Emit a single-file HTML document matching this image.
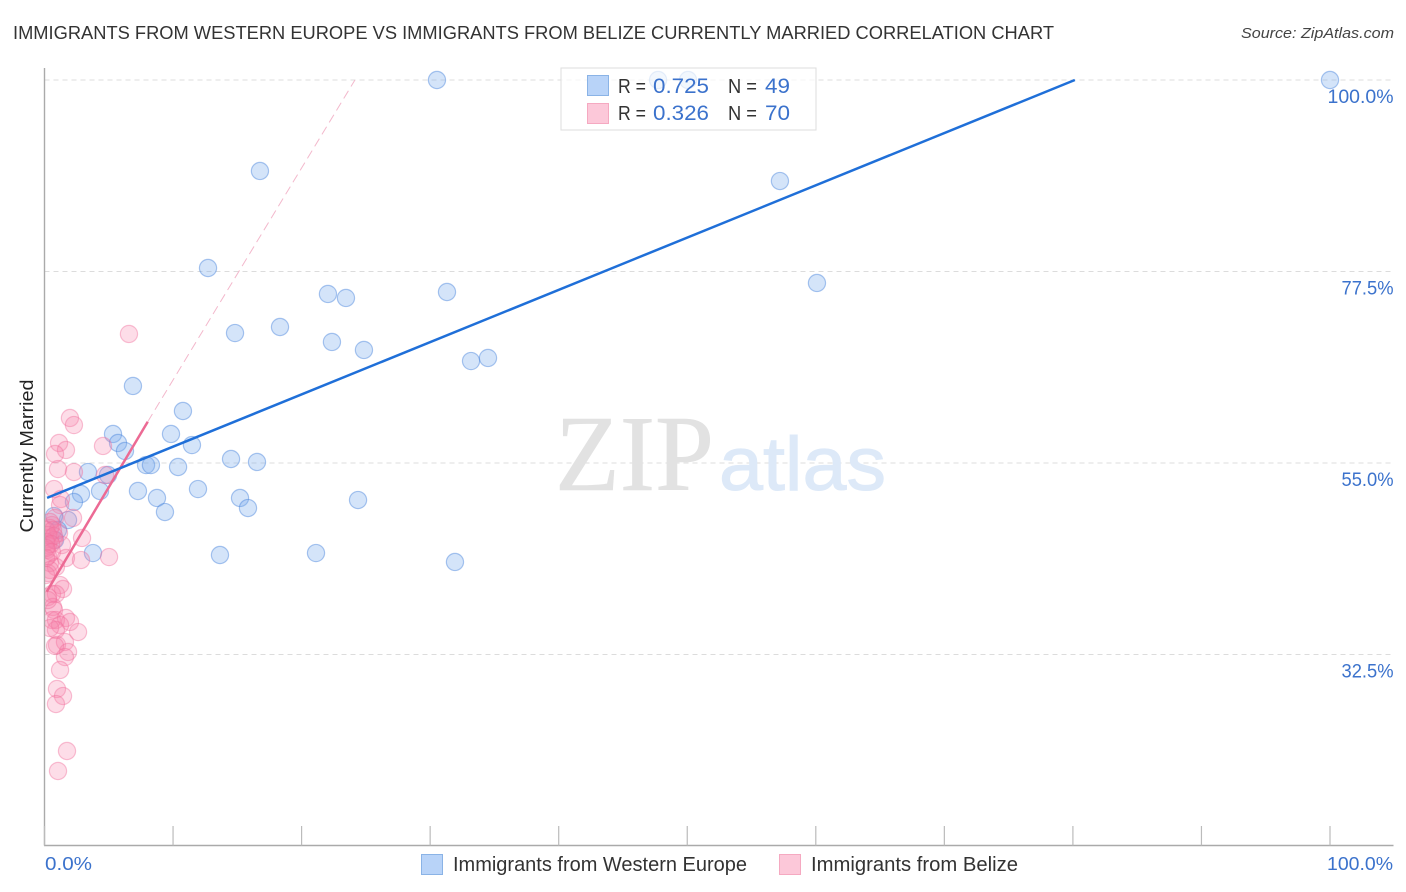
<!DOCTYPE html>
<html lang="en">
<head>
<meta charset="utf-8">
<title>Immigrants from Western Europe vs Immigrants from Belize Currently Married Correlation Chart</title>
<style>
html,body{margin:0;padding:0;background:#fff;width:1406px;height:892px;overflow:hidden}
svg{display:block}
text{font-family:"Liberation Sans",sans-serif}
</style>
</head>
<body>
<svg id="chart" width="1406" height="892" viewBox="0 0 1406 892" xmlns="http://www.w3.org/2000/svg">
  <defs>
    <clipPath id="plot-clip"><rect x="45" y="60" width="1361" height="786"/></clipPath>
  </defs>
  <rect x="0" y="0" width="1406" height="892" fill="#ffffff"/>
  <text x="13" y="39" font-size="18.5" fill="#333333" textLength="1041" lengthAdjust="spacingAndGlyphs">IMMIGRANTS FROM WESTERN EUROPE VS IMMIGRANTS FROM BELIZE CURRENTLY MARRIED CORRELATION CHART</text>
  <text x="1241" y="38" font-size="15" font-style="italic" fill="#444444" textLength="153" lengthAdjust="spacingAndGlyphs">Source: ZipAtlas.com</text>
  <g id="grid"></g>
  <g>
    <text x="555" y="490" font-size="108" fill="#e2e2e2" stroke="#e2e2e2" stroke-width="0.6" style="font-family:'Liberation Serif',serif" textLength="159" lengthAdjust="spacingAndGlyphs">ZIP</text>
    <text x="719" y="490" font-size="76" fill="#dde9f8" stroke="#dde9f8" stroke-width="1" textLength="167" lengthAdjust="spacingAndGlyphs">atlas</text>
  </g>
  <g id="points-blue" clip-path="url(#plot-clip)"></g>
  <g id="points-pink" clip-path="url(#plot-clip)"></g>
  <g id="axes"></g>
  <g id="trends"></g>
  <g id="ylabels"></g>
  <text transform="translate(33,456) rotate(-90)" text-anchor="middle" font-size="18.5" fill="#222222" textLength="153" lengthAdjust="spacingAndGlyphs">Currently Married</text>
  <text x="45" y="870" font-size="18.5" fill="#3b72cc" textLength="47" lengthAdjust="spacingAndGlyphs">0.0%</text>
  <text x="1327" y="870" font-size="18.5" fill="#3b72cc" textLength="66" lengthAdjust="spacingAndGlyphs">100.0%</text>

  <g>
    <rect x="561" y="68" width="255" height="62" fill="#ffffff" fill-opacity="0.7" stroke="#dddddd" stroke-width="1"/>
    <rect x="587.5" y="75.5" width="21" height="20" fill="#b8d3f8" stroke="#8ab3e6" stroke-width="1"/>
    <rect x="587.5" y="103.5" width="21" height="20" fill="#fcc8d9" stroke="#f5a9c1" stroke-width="1"/>
    <text x="618" y="93" font-size="20" fill="#333333" textLength="28" lengthAdjust="spacingAndGlyphs">R =</text>
    <text x="653" y="93" font-size="21" fill="#3b72cc" textLength="56" lengthAdjust="spacingAndGlyphs">0.725</text>
    <text x="728" y="93" font-size="20" fill="#333333" textLength="29" lengthAdjust="spacingAndGlyphs">N =</text>
    <text x="765" y="93" font-size="21" fill="#3b72cc" textLength="25" lengthAdjust="spacingAndGlyphs">49</text>
    <text x="618" y="120" font-size="20" fill="#333333" textLength="28" lengthAdjust="spacingAndGlyphs">R =</text>
    <text x="653" y="120" font-size="21" fill="#3b72cc" textLength="56" lengthAdjust="spacingAndGlyphs">0.326</text>
    <text x="728" y="120" font-size="20" fill="#333333" textLength="29" lengthAdjust="spacingAndGlyphs">N =</text>
    <text x="765" y="120" font-size="21" fill="#3b72cc" textLength="25" lengthAdjust="spacingAndGlyphs">70</text>
  </g>

  <g>
    <rect x="421.5" y="854.5" width="21" height="20" fill="#b8d3f8" stroke="#8ab3e6" stroke-width="1"/>
    <text x="453" y="871" font-size="20" fill="#333333" textLength="294" lengthAdjust="spacingAndGlyphs">Immigrants from Western Europe</text>
    <rect x="779.5" y="854.5" width="21" height="20" fill="#fcc8d9" stroke="#f5a9c1" stroke-width="1"/>
    <text x="811" y="871" font-size="20" fill="#333333" textLength="207" lengthAdjust="spacingAndGlyphs">Immigrants from Belize</text>
  </g>
</svg>
<script>
const blueX = [30.53,47.73,50.06,100,16.76,57.21,12.72,60.09,22.05,23.45,31.31,18.32,14.82,22.36,24.85,33.18,34.5,6.88,10.77,5.33,9.84,5.72,11.47,6.26,14.51,16.53,7.9,8.28,10.39,3.38,4.94,11.94,4.32,7.27,2.84,8.75,15.21,24.39,2.29,15.83,9.37,1.83,0.74,1.05,0.82,3.77,13.65,21.12,31.93];
const blueY = [100,100,100,100,89.31,88.13,77.91,76.15,74.86,74.39,75.09,70.98,70.27,69.22,68.28,66.98,67.34,64.05,61.11,58.41,58.41,57.35,57.11,56.41,55.47,55.12,54.76,54.76,54.53,53.94,53.59,51.94,51.71,51.71,51.36,50.89,50.89,50.65,50.42,49.71,49.24,48.3,48.77,47.13,45.95,44.42,44.19,44.42,43.37];
const pinkX = [6.57,1.98,2.29,1.13,4.55,1.67,0.82,1.05,2.29,4.71,0.74,1.28,1.21,2.22,0.82,0.58,1.13,0.43,2.92,0.43,0.74,0.27,1.36,0.19,0.27,1.67,2.84,5.02,0.43,0.89,0.27,1.21,1.44,0.58,0.89,0.27,0.66,0.74,0.58,0.89,1.67,1.98,1.21,2.61,0.89,0.97,1.59,0.82,1.83,1.59,1.21,0.97,1.44,0.89,1.75,1.05,0.43,0.12,0.66,0.27,0.74,0.12,0.51,0.12,0.58,0.12,0.43,0.12,0.27,0.43];
const pinkY = [70.16,60.29,59.46,57.35,57,56.53,56.06,54.29,53.94,53.59,51.94,50.77,50.06,48.54,48.54,47.71,46.77,47.36,46.19,46.19,45.95,45.36,45.36,44.78,44.07,43.84,43.6,43.95,43.25,42.78,42.07,40.66,40.2,39.61,39.61,39.25,38.08,37.73,36.55,36.55,36.79,36.32,35.97,35.14,35.38,33.62,33.97,33.5,32.8,32.2,30.68,28.45,27.62,26.68,21.16,18.81,48.07,47.13,47.13,46.54,46.42,45.72,45.48,45.01,44.54,43.84,42.43,41.84,38.9,35.61];
const blueTrendX = [0.2,80.15];
const blueTrendY = [50.9,100];
const pinkTrendX = [0.17,8.03];
const pinkTrendY = [39.88,59.85];
const pinkExtensionX = [8.03,24.15];
const pinkExtensionY = [59.85,100];
const yTicks = [100,77.5,55,32.5];
const yTickLabels = ["100.0%","77.5%","55.0%","32.5%"];
const xTicks = [0,10,20,30,40,50,60,70,80,90,100];

const NS = "http://www.w3.org/2000/svg";
function xScale(v){ return 44.5 + v * 12.855; }
function yScale(v){ return 80 + (100 - v) * 8.511; }
function make(tag, attrs){
  const el = document.createElementNS(NS, tag);
  for (const k in attrs) el.setAttribute(k, attrs[k]);
  return el;
}
const grid = document.getElementById("grid");
const axes = document.getElementById("axes");
const ylabels = document.getElementById("ylabels");

yTicks.forEach(function(t, i){
  const line = make("line", {x1:44.5, x2:1393, y1:yScale(t), y2:yScale(t), stroke:"#dcdcdc", "stroke-width":1, "stroke-dasharray":"5 4"});
  
  
  grid.appendChild(line);
  const label = make("text", {x:1393.5, y:yScale(t)+23, "text-anchor":"end", "font-size":19, fill:"#3b72cc", textLength:yTickLabels[i].length === 6 ? 66 : 52, lengthAdjust:"spacingAndGlyphs"});
  
  
  label.textContent = yTickLabels[i];
  ylabels.appendChild(label);
});

const yAxis = make("line", {x1:44.5, x2:44.5, y1:68, y2:845.5, stroke:"#aaaaaa", "stroke-width":1.4});


axes.appendChild(yAxis);
const xAxis = make("line", {x1:44, x2:1393.5, y1:845.5, y2:845.5, stroke:"#aaaaaa", "stroke-width":1.4});


axes.appendChild(xAxis);
xTicks.forEach(function(t){
  const tick = make("line", {x1:xScale(t), x2:xScale(t), y1:826, y2:845.5, stroke:"#bbbbbb", "stroke-width":1.2});
  
  
  axes.appendChild(tick);
});

const bluePoints = document.getElementById("points-blue");
blueX.forEach(function(x, i){
  const c = make("circle", {cx:xScale(x), cy:yScale(blueY[i]), r:8.6, fill:"rgba(120,170,235,0.32)", stroke:"rgba(70,130,220,0.45)", "stroke-width":1.2});
  
  
  bluePoints.appendChild(c);
});
const pinkPoints = document.getElementById("points-pink");
pinkX.forEach(function(x, i){
  const c = make("circle", {cx:xScale(x), cy:yScale(pinkY[i]), r:8.6, fill:"rgba(246,130,170,0.27)", stroke:"rgba(240,110,155,0.42)", "stroke-width":1.2});
  
  
  pinkPoints.appendChild(c);
});

const trends = document.getElementById("trends");
const ext = make("line", {x1:xScale(pinkExtensionX[0]), y1:yScale(pinkExtensionY[0]), x2:xScale(pinkExtensionX[1]), y2:yScale(pinkExtensionY[1]), stroke:"#f3b8cc", "stroke-width":1, "stroke-dasharray":"9 5"});


trends.appendChild(ext);
const pinkLine = make("line", {x1:xScale(pinkTrendX[0]), y1:yScale(pinkTrendY[0]), x2:xScale(pinkTrendX[1]), y2:yScale(pinkTrendY[1]), stroke:"#ec6a94", "stroke-width":2.5});


trends.appendChild(pinkLine);
const blueLine = make("line", {x1:xScale(blueTrendX[0]), y1:yScale(blueTrendY[0]), x2:xScale(blueTrendX[1]), y2:yScale(blueTrendY[1]), stroke:"#1f6fd8", "stroke-width":2.5});


trends.appendChild(blueLine);
</script>
</body>
</html>
